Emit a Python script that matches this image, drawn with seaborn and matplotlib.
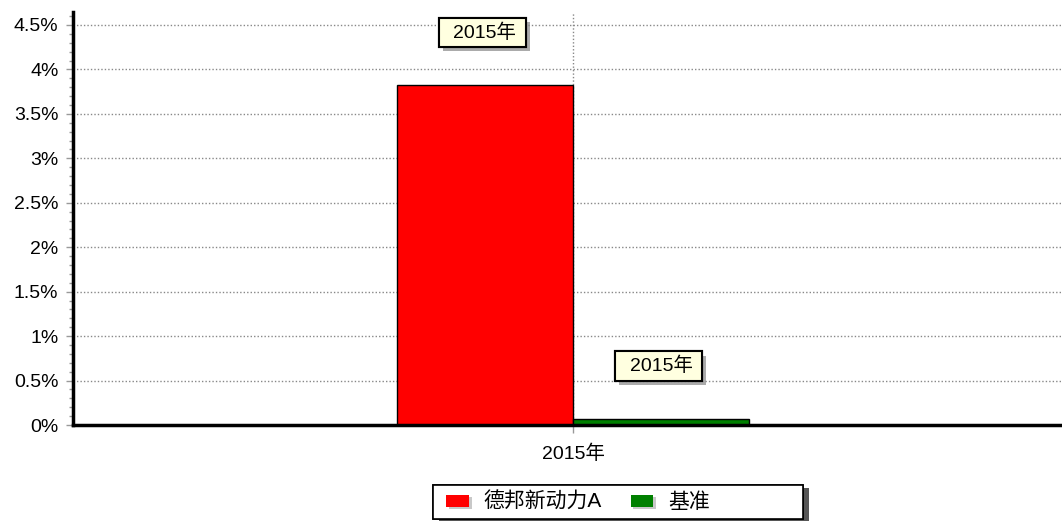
import matplotlib
matplotlib.use("Agg")
import matplotlib.pyplot as plt
import matplotlib.patheffects as pe
from matplotlib.patches import Rectangle, Patch
from matplotlib.path import Path
from matplotlib.ticker import MultipleLocator, FuncFormatter
import seaborn as sns
import pandas as pd

categories = ["2015年"]
series_names = ["德邦新动力A", "基准"]
fund_values = [3.82]
bench_values = [0.07]
colors = ["#ff0000", "#008000"]

sns.set_style("white")
plt.rcParams['font.family'] = ['Liberation Sans', 'Noto Sans CJK SC', 'DejaVu Sans']
plt.rcParams['text.color'] = 'black'
plt.rcParams['xtick.labelcolor'] = 'black'
plt.rcParams['ytick.labelcolor'] = 'black'

df = pd.DataFrame({
    "cat": categories * 2,
    "series": [series_names[0]] * len(categories) + [series_names[1]] * len(categories),
    "value": fund_values + bench_values,
})


def label_box(x0, y0, width, height, mutation_size):
    pl, pr, pv = 0.75 * mutation_size, 0.5 * mutation_size, 0.28 * mutation_size
    xa, xb = x0 - pl, x0 + width + pr
    ya, yb = y0 - pv, y0 + height + pv
    return Path([(xa, ya), (xb, ya), (xb, yb), (xa, yb), (xa, ya)], closed=True)


W, H = 1062, 521
fig = plt.figure(figsize=(W / 100, H / 100), dpi=100)
ax = fig.add_axes([73 / W, 1 - 425 / H, (1062 - 73) / W, (425 - 12) / H])

sns.barplot(data=df, x="cat", y="value", hue="series", palette=colors,
            width=0.7, edgecolor="black", linewidth=1, ax=ax, legend=False,
            saturation=1)

ax.set_xlim(-0.994, 0.972)
ax.set_ylim(0, 4.646)
ax.yaxis.set_major_locator(MultipleLocator(0.5))
ax.yaxis.set_minor_locator(MultipleLocator(0.1))
ax.yaxis.set_major_formatter(FuncFormatter(lambda v, p: f"{v:g}%"))
ax.set_xlabel("")
ax.set_ylabel("")

ax.grid(True, which="major", axis="both", linestyle=(0, (1, 1.5)), color="#888888", linewidth=1)
ax.set_axisbelow(True)

for s in ["top", "right"]:
    ax.spines[s].set_visible(False)
ax.spines["left"].set_linewidth(2.5)
ax.spines["bottom"].set_linewidth(2.5)
ax.spines["left"].set_color("black")
ax.spines["bottom"].set_color("black")

ax.tick_params(axis="y", which="major", length=5, width=1, color="#999999", labelcolor="black",
               labelsize=14, pad=5.5, left=True)
ax.tick_params(axis="y", which="minor", length=3, width=1, color="#999999", left=True)
ax.tick_params(axis="x", which="major", length=6, width=1, color="#999999", labelcolor="black",
               labelsize=14, pad=8, bottom=True)

shadow = [pe.withSimplePatchShadow(offset=(3, -3), shadow_rgbFace="#888888", alpha=0.7), pe.Normal()]
for patch in ax.patches:
    h = patch.get_height()
    if h <= 0:
        continue
    cx = patch.get_x() + patch.get_width() / 2
    t = ax.annotate(categories[0], xy=(cx, h), xytext=(0, 38), textcoords="offset points",
                    ha="center", va="center", fontsize=14, color="black",
                    bbox=dict(boxstyle=label_box, fc="#ffffe0", ec="black", lw=1.5))
    t.get_bbox_patch().set_path_effects(shadow)

# legend frame
rect = Rectangle((433 / W, 1 - 519 / H), (803 - 433) / W, (519 - 485) / H,
                 transform=fig.transFigure, fc="white", ec="black", lw=1.2,
                 path_effects=[pe.withSimplePatchShadow(offset=(4, -2), shadow_rgbFace="#444444", alpha=0.9), pe.Normal()])
fig.patches.append(rect)
handle_shadow = [pe.withSimplePatchShadow(offset=(2, -2), shadow_rgbFace="#bbbbbb", alpha=0.8), pe.Normal()]
handles = [Patch(facecolor=c, edgecolor="none", path_effects=handle_shadow) for c in colors]
fig.legend(handles, series_names, loc="center left", bbox_to_anchor=(446 / W, 1 - 502 / H),
           ncol=2, frameon=False, fontsize=15, handlelength=1.1, handleheight=0.5,
           handletextpad=0.7, columnspacing=1.38, borderpad=0, borderaxespad=0,
           labelcolor="black")

fig.savefig("out.png", dpi=100)
